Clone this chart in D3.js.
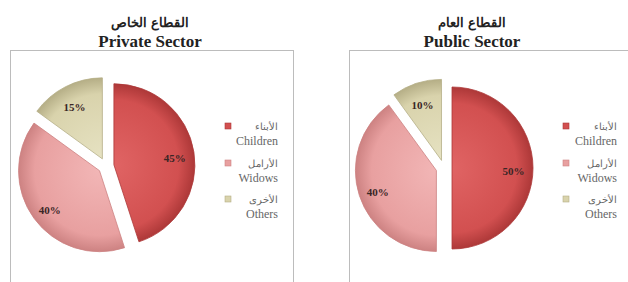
<!DOCTYPE html>
<html>
<head>
<meta charset="utf-8">
<script src="https://cdn.jsdelivr.net/npm/d3@7"></script>
<style>
  body { margin: 0; background: #fff; }
  svg text { font-family: "Liberation Serif", "DejaVu Serif", serif; }
</style>
</head>
<body>
<svg id="chart"></svg>
<script>
var width = 628;
var height = 282;

// data
var categoriesEn = ["Children", "Widows", "Others"];
var categoriesAr = ["الأبناء", "الأرامل", "الأخرى"];
var privateValues = [45, 40, 15];
var publicValues = [50, 40, 10];
var titlesEn = ["Private Sector", "Public Sector"];
var titlesAr = ["القطاع الخاص", "القطاع العام"];

var svg = d3.select("#chart")
    .attr("width", width)
    .attr("height", height);

var colorScale = d3.scaleOrdinal()
    .domain(categoriesEn)
    .range([
      ["#e06464", "#d25050", "#ad3838"],
      ["#f2b6b6", "#e8a0a0", "#cd8282"],
      ["#e6e2c2", "#d9d3ac", "#b5ae86"]
    ]);

var radius = 81;
var explode = 8;

// one gradient per category, centred on the slice tip
var defs = svg.append("defs");
categoriesEn.forEach(function(c, i){
  var g = defs.append("radialGradient")
      .attr("id", "grad" + i)
      .attr("gradientUnits", "userSpaceOnUse")
      .attr("cx", 0).attr("cy", 0).attr("r", radius);
  var cols = colorScale(c);
  g.append("stop").attr("offset", "0%").attr("stop-color", cols[0]);
  g.append("stop").attr("offset", "80%").attr("stop-color", cols[1]);
  g.append("stop").attr("offset", "100%").attr("stop-color", cols[2]);
});

var pie = d3.pie().sort(null).value(d => d);
var arc = d3.arc().innerRadius(0).outerRadius(radius);

var panels = [
  { values: privateValues, boxX: 10, boxW: 283, cx: 106, cy: 166, titleX: 150, legX: 228, legR: 278 },
  { values: publicValues, boxX: 349, boxW: 290, cx: 444, cy: 168, titleX: 472, legX: 566, legR: 617 }
];

panels.forEach(function(p, pi){
  // frame
  svg.append("rect")
      .attr("x", p.boxX + 0.5)
      .attr("y", 50.5)
      .attr("width", p.boxW)
      .attr("height", 250)
      .attr("fill", "none")
      .attr("stroke", "#bcbcbc")
      .attr("stroke-width", 1);

  // titles
  svg.append("text")
      .attr("x", p.titleX)
      .attr("y", 27)
      .style("text-anchor", "middle")
      .style("font-size", "13px")
      .style("font-weight", "bold")
      .attr("fill", "#222")
      .text(titlesAr[pi]);

  svg.append("text")
      .attr("x", p.titleX)
      .attr("y", 47)
      .style("text-anchor", "middle")
      .style("font-size", "17px")
      .style("font-weight", "bold")
      .attr("fill", "#222")
      .text(titlesEn[pi]);

  // pie
  var g = svg.append("g")
      .attr("transform", "translate(" + p.cx + "," + p.cy + ")");

  var slices = g.selectAll("g.slice")
    .data(pie(p.values))
    .enter()
    .append("g")
      .attr("class", "slice")
      .attr("transform", function(d){
        var a = (d.startAngle + d.endAngle) / 2;
        return "translate(" + (Math.sin(a) * explode) + "," + (-Math.cos(a) * explode) + ")";
      });

  slices.append("path")
      .attr("d", arc)
      .attr("fill", (d, i) => "url(#grad" + i + ")")
      .attr("stroke", (d, i) => colorScale(categoriesEn[i])[2])
      .attr("stroke-width", 0.8);

  slices.append("text")
      .attr("transform", function(d){
        var a = (d.startAngle + d.endAngle) / 2;
        var r = radius * 0.76;
        return "translate(" + (Math.sin(a) * r) + "," + (-Math.cos(a) * r + 3) + ")";
      })
      .attr("dy", "0.35em")
      .style("text-anchor", "middle")
      .style("font-size", "11px")
      .style("font-weight", "bold")
      .attr("fill", "#3a2626")
      .text(d => d.value + "%");

  // legend
  var rowY = [126, 163, 199];
  categoriesEn.forEach(function(c, i){
    svg.append("rect")
        .attr("x", p.legX - 3)
        .attr("y", rowY[i] - 3)
        .attr("width", 6)
        .attr("height", 6)
        .attr("fill", colorScale(c)[1])
        .attr("stroke", colorScale(c)[2])
        .attr("stroke-width", 0.6);

    svg.append("text")
        .attr("x", p.legR)
        .attr("y", rowY[i])
        .attr("dy", "0.35em")
        .style("text-anchor", "end")
        .style("font-size", "10px")
        .style("font-family", "'DejaVu Serif', serif")
        .attr("fill", "#666")
        .text(categoriesAr[i]);

    svg.append("text")
        .attr("x", p.legR)
        .attr("y", rowY[i] + 15)
        .attr("dy", "0.35em")
        .style("text-anchor", "end")
        .style("font-size", "12px")
        .style("font-family", "'Liberation Serif', serif")
        .attr("fill", "#666")
        .text(c);
  });
});
</script>
</body>
</html>
